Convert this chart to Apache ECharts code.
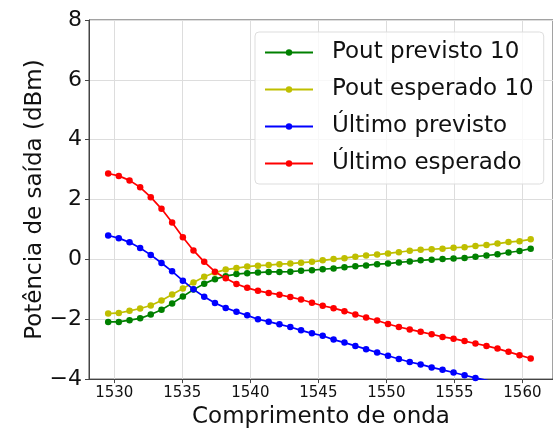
<!DOCTYPE html>
<html>
<head>
<meta charset="utf-8">
<script src="https://cdn.jsdelivr.net/npm/echarts@6/dist/echarts.min.js"></script>
<style>
  html, body { margin: 0; padding: 0; background: #fff; }
  #chart { width: 553px; height: 434px; }
</style>
</head>
<body>
<div id="chart"></div>
<script>
// ITU 100 GHz grid, 40 channels (nm)
const wavelength = [
  1529.55, 1530.33, 1531.12, 1531.90, 1532.68, 1533.47, 1534.25, 1535.04, 1535.82, 1536.61,
  1537.40, 1538.19, 1538.98, 1539.77, 1540.56, 1541.35, 1542.14, 1542.94, 1543.73, 1544.53,
  1545.32, 1546.12, 1546.92, 1547.72, 1548.51, 1549.32, 1550.12, 1550.92, 1551.72, 1552.52,
  1553.33, 1554.13, 1554.94, 1555.75, 1556.55, 1557.36, 1558.17, 1558.98, 1559.79, 1560.61
];
const poutPrevisto = [
  -2.09, -2.09, -2.03, -1.97, -1.84, -1.68, -1.47, -1.24, -1.01, -0.81,
  -0.66, -0.56, -0.49, -0.46, -0.44, -0.42, -0.42, -0.41, -0.38, -0.36,
  -0.33, -0.30, -0.26, -0.23, -0.20, -0.16, -0.14, -0.10, -0.07, -0.03,
  -0.01, 0.01, 0.03, 0.05, 0.09, 0.13, 0.17, 0.23, 0.28, 0.36
];
const poutEsperado = [
  -1.81, -1.79, -1.72, -1.64, -1.54, -1.37, -1.17, -0.97, -0.77, -0.58,
  -0.44, -0.34, -0.29, -0.24, -0.21, -0.19, -0.16, -0.14, -0.11, -0.08,
  -0.03, 0.01, 0.04, 0.09, 0.13, 0.16, 0.20, 0.24, 0.29, 0.32,
  0.34, 0.36, 0.39, 0.41, 0.45, 0.48, 0.53, 0.58, 0.61, 0.67
];
const ultimoPrevisto = [
  0.80, 0.71, 0.57, 0.38, 0.15, -0.12, -0.40, -0.71, -1.00, -1.25,
  -1.46, -1.62, -1.75, -1.87, -2.00, -2.08, -2.17, -2.26, -2.37, -2.47,
  -2.55, -2.68, -2.78, -2.89, -3.00, -3.11, -3.22, -3.33, -3.43, -3.51,
  -3.61, -3.69, -3.78, -3.87, -3.96, -4.04, -4.13, -4.22, -4.31, -4.40
];
const ultimoEsperado = [
  2.87, 2.79, 2.64, 2.41, 2.08, 1.69, 1.23, 0.74, 0.30, -0.08,
  -0.41, -0.63, -0.82, -0.95, -1.05, -1.12, -1.18, -1.26, -1.34, -1.45,
  -1.55, -1.63, -1.73, -1.84, -1.94, -2.04, -2.16, -2.26, -2.34, -2.42,
  -2.50, -2.59, -2.65, -2.73, -2.81, -2.89, -2.98, -3.09, -3.20, -3.31
];
const xTicks = [1530, 1535, 1540, 1545, 1550, 1555, 1560];
const seriesNames = ['Pout previsto 10', 'Pout esperado 10', 'Último previsto', 'Último esperado'];
const seriesColors = ['#008000', '#bfbf00', '#0000ff', '#ff0000'];

const font = 'DejaVu Sans';
const chart = echarts.init(document.getElementById('chart'));

function makeSeries(i, values) {
  return {
    name: seriesNames[i],
    type: 'line',
    data: wavelength.map((w, k) => [w, values[k]]),
    symbol: 'circle',
    symbolSize: 6.5,
    clip: true,
    color: seriesColors[i],
    lineStyle: { width: 1.7, color: seriesColors[i] },
    itemStyle: { color: seriesColors[i] },
    emphasis: { disabled: true },
  };
}

chart.setOption({
  animation: false,
  grid: {
    left: 89,
    top: 20,
    right: -4,
    bottom: 48,
    show: true,
    borderColor: '#444',
    borderWidth: 1,
    backgroundColor: 'transparent',
  },
  legend: {
    orient: 'vertical',
    left: 255,
    top: 32,
    width: 290,
    padding: [7, 10, 7, 9],
    itemGap: 10,
    itemWidth: 48,
    itemHeight: 8,
    backgroundColor: 'rgba(255,255,255,0.8)',
    borderColor: '#ddd',
    borderWidth: 1,
    borderRadius: 4,
    textStyle: {
      fontFamily: font,
      fontSize: 23,
      color: '#111',
      lineHeight: 27,
      padding: [0, 0, 0, 14],
    },
    data: seriesNames,
  },
  xAxis: {
    type: 'value',
    min: 1528.14,
    max: 1562.25,
    name: 'Comprimento de onda',
    nameLocation: 'middle',
    nameGap: 19,
    nameTextStyle: { fontFamily: font, fontSize: 23, color: '#111' },
    axisLine: { show: true, onZero: false, lineStyle: { color: '#444', width: 1 } },
    axisTick: { show: true, length: 4, customValues: xTicks, lineStyle: { color: '#444' } },
    axisLabel: {
      customValues: xTicks,
      fontFamily: font,
      fontSize: 15,
      color: '#111',
      margin: 7,
      formatter: v => String(v),
    },
    splitLine: { show: true, lineStyle: { color: '#ddd', width: 1 } },
  },
  yAxis: {
    type: 'value',
    min: -4,
    max: 8,
    interval: 2,
    name: 'Potência de saída (dBm)',
    nameLocation: 'middle',
    nameGap: 42,
    nameMoveOverlap: false,
    nameTextStyle: { fontFamily: font, fontSize: 23, color: '#111' },
    axisLine: { show: true, onZero: false, lineStyle: { color: '#444', width: 1 } },
    axisTick: { show: true, length: 4, lineStyle: { color: '#444' } },
    axisLabel: {
      fontFamily: font,
      fontSize: 22,
      color: '#111',
      margin: 7,
      formatter: v => String(v).replace('-', '\u2212'),
    },
    splitLine: { show: true, lineStyle: { color: '#ddd', width: 1 } },
  },
  series: [
    makeSeries(0, poutPrevisto),
    makeSeries(1, poutEsperado),
    makeSeries(2, ultimoPrevisto),
    makeSeries(3, ultimoEsperado),
  ],
});
</script>
</body>
</html>
